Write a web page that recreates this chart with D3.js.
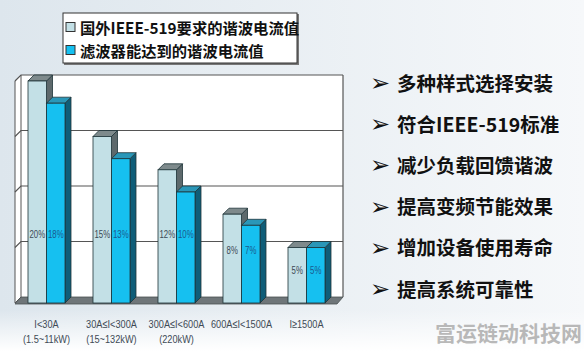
<!DOCTYPE html>
<head>
    <meta charset="utf-8">
    <script src="https://d3js.org/d3.v7.min.js"></script>
    <style>
      body { margin: 0; }
      .legendtext { font-family: "Noto Sans CJK SC"; font-size: 15.3px; font-weight: 700; fill: #111; }
      .listtext { font-family: "Noto Sans CJK SC"; font-size: 19.5px; font-weight: 700; fill: #111; }
      .axislabel { font-family: "Liberation Sans"; font-size: 11.5px; fill: #3e4a55; }
      .barlabel { font-family: "Liberation Sans"; font-size: 11.5px; }
    </style>
<body>
    <script>
        var categories = ["I<30A", "30A≤I<300A", "300A≤I<600A", "600A≤I<1500A", "I≥1500A"];
        var subLabels = ["(1.5~11kW)", "(15~132kW)", "(220kW)", "", ""];
        var seriesNames = ["国外IEEE-519要求的谐波电流值", "滤波器能达到的谐波电流值"];
        var standardValues = [20, 15, 12, 8, 5];
        var filterValues = [18, 13, 10, 7, 5];
        var yTicks = [0, 5, 10, 15, 20];
        var features = ["多种样式选择安装", "符合IEEE-519标准", "减少负载回馈谐波", "提高变频节能效果", "增加设备使用寿命", "提高系统可靠性"];
        var watermark = "富运链动科技网";

        var svg_w = 584, svg_h = 351;
        var svg = d3.select("body").append("svg")
          .attr("width", svg_w)
          .attr("height", svg_h);

        // background
        var defs = svg.append("defs");
        var bg = defs.append("linearGradient").attr("id", "bg").attr("x1", 0).attr("x2", 1).attr("y1", 0).attr("y2", 0);
        bg.append("stop").attr("offset", "0%").attr("stop-color", "#dde6ed");
        bg.append("stop").attr("offset", "100%").attr("stop-color", "#f6f8fa");
        var bgv = defs.append("linearGradient").attr("id", "bgv").attr("x1", 0).attr("x2", 0).attr("y1", 0).attr("y2", 1);
        bgv.append("stop").attr("offset", "0%").attr("stop-color", "#fff").attr("stop-opacity", 0);
        bgv.append("stop").attr("offset", "100%").attr("stop-color", "#fff").attr("stop-opacity", 1);
        svg.append("rect").attr("width", svg_w).attr("height", svg_h).attr("fill", "url(#bg)");
        svg.append("rect").attr("y", 310).attr("width", svg_w).attr("height", 41).attr("fill", "url(#bgv)");

        // chart geometry
        var dx = 6, dy = 6;
        var x = d3.scaleBand().domain(categories).range([14, 339]);
        var inner = d3.scaleBand().domain([0, 1]).range([-18.5, 18.5]);
        var y = d3.scaleLinear().domain([0, 20]).range([303, 81]);
        var left = 15, right = 337;
        var y0 = y(0);

        var chart = svg.append("g");
        // back wall
        chart.append("rect")
          .attr("x", left + dx).attr("y", y(20) - dy)
          .attr("width", right - left).attr("height", y0 - y(20))
          .attr("fill", "#fff");
        // left wall
        chart.append("path")
          .attr("d", "M" + left + "," + y(20) + "L" + (left + dx) + "," + (y(20) - dy) +
                     "L" + (left + dx) + "," + (y0 - dy) + "L" + left + "," + y0 + "Z")
          .attr("fill", "#fff").attr("stroke", "#555").attr("stroke-width", 1);
        // gridlines
        chart.selectAll(".grid").data(yTicks.filter(function(d){return d > 0;}))
          .enter().append("path")
          .attr("d", function(d) {
            return "M" + left + "," + y(d) + "L" + (left + dx) + "," + (y(d) - dy) + "L" + (right + dx) + "," + (y(d) - dy);
          })
          .attr("fill", "none").attr("stroke", "#555").attr("stroke-width", 1.2);
        chart.append("line")
          .attr("x1", right + dx).attr("x2", right + dx)
          .attr("y1", y(20) - dy).attr("y2", y0 - dy)
          .attr("stroke", "#555").attr("stroke-width", 1.2);
        // floor
        chart.append("path")
          .attr("d", "M" + left + "," + (y0 + 1) + "L" + (left + dx) + "," + (y0 - dy) +
                     "L" + (right + dx) + "," + (y0 - dy) + "L" + right + "," + (y0 + 1) + "Z")
          .attr("fill", "#6f7679").attr("stroke", "#4a5052").attr("stroke-width", 0.8);

        var colors = [
          {front: "#c3e0e6", top: "#7e8a8c", side: "#5d696c", label: "#3d4a55"},
          {front: "#16c0f0", top: "#2a97b8", side: "#0f5d78", label: "#1a5a8e"}
        ];
        var bars = [];
        categories.forEach(function(c, i) {
          bars.push({cat: c, s: 0, v: standardValues[i], ref: standardValues[i]});
          bars.push({cat: c, s: 1, v: filterValues[i], ref: standardValues[i]});
        });

        var barG = chart.selectAll(".bar").data(bars).enter().append("g").classed("bar", true);
        function bx(d) { return x(d.cat) + x.bandwidth() / 2 + inner(d.s); }
        var bw = inner.bandwidth();
        barG.append("path")
          .attr("d", function(d) {
            var x0 = bx(d) + bw, t = y(d.v);
            return "M" + x0 + "," + t + "L" + (x0 + dx) + "," + (t - dy) + "L" + (x0 + dx) + "," + (y0 - dy) + "L" + x0 + "," + y0 + "Z";
          })
          .attr("fill", function(d){return colors[d.s].side;})
          .attr("stroke", "#1e3438").attr("stroke-width", 0.8);
        barG.append("path")
          .attr("d", function(d) {
            var x0 = bx(d), t = y(d.v);
            return "M" + x0 + "," + t + "L" + (x0 + dx) + "," + (t - dy) + "L" + (x0 + bw + dx) + "," + (t - dy) + "L" + (x0 + bw) + "," + t + "Z";
          })
          .attr("fill", function(d){return colors[d.s].top;})
          .attr("stroke", "#1e3438").attr("stroke-width", 0.8);
        barG.append("rect")
          .attr("x", bx).attr("y", function(d){return y(d.v);})
          .attr("width", bw).attr("height", function(d){return y0 - y(d.v);})
          .attr("fill", function(d){return colors[d.s].front;})
          .attr("stroke", "#1e3438").attr("stroke-width", 0.8);
        // narrow labels: horizontally scaled text
        barG.append("text")
          .classed("barlabel", true)
          .attr("transform", function(d) {
            return "translate(" + (bx(d) + bw / 2) + "," + y(Math.min(d.ref * 0.6, 6.2)) + ") scale(0.68,1)";
          })
          .attr("text-anchor", "middle")
          .attr("dominant-baseline", "central")
          .attr("fill", function(d){return colors[d.s].label;})
          .text(function(d){return d.v + "%";});

        // category labels
        var xl = svg.selectAll(".xlab").data(categories).enter().append("g")
          .attr("transform", function(d){return "translate(" + (x(d) + x.bandwidth() / 2) + ",0) scale(0.8,1)";});
        xl.append("text").classed("axislabel", true)
          .attr("y", 328).attr("text-anchor", "middle")
          .text(function(d){return d;});
        xl.append("text").classed("axislabel", true)
          .attr("y", 343).attr("text-anchor", "middle")
          .text(function(d, i){return subLabels[i];});

        // legend
        var legend = svg.append("g");
        legend.append("rect").attr("x", 64).attr("y", 14).attr("width", 235).attr("height", 51).attr("fill", "#777");
        legend.append("rect").attr("x", 63).attr("y", 13).attr("width", 234).attr("height", 50)
          .attr("fill", "#fff").attr("stroke", "#333").attr("stroke-width", 1);
        var li = legend.selectAll(".li").data(seriesNames).enter().append("g")
          .attr("transform", function(d, i){return "translate(66," + (27 + i * 23) + ")";});
        li.append("rect").attr("x", 0).attr("y", -4.5).attr("width", 9).attr("height", 9)
          .attr("fill", function(d, i){return colors[i].front;})
          .attr("stroke", "#333").attr("stroke-width", 1);
        li.append("text").classed("legendtext", true)
          .attr("x", 14).attr("y", 0).attr("dominant-baseline", "central")
          .text(function(d){return d;});

        // feature list
        var fl = svg.selectAll(".feat").data(features).enter().append("g")
          .attr("transform", function(d, i){return "translate(0," + (82 + i * 41.2) + ")";});
        fl.append("text")
          .attr("x", 370).attr("y", 1).attr("dominant-baseline", "central")
          .attr("font-family", "DejaVu Sans").attr("font-size", "24px").attr("fill", "#111")
          .text("➢");
        fl.append("text").classed("listtext", true)
          .attr("x", 397).attr("y", 0).attr("dominant-baseline", "central")
          .text(function(d){return d;});

        svg.append("text")
          .attr("x", 582).attr("y", 332)
          .attr("text-anchor", "end").attr("dominant-baseline", "central")
          .attr("font-family", "Noto Sans CJK SC").attr("font-weight", 700)
          .attr("font-size", "21px").attr("fill", "#b8b8b8")
          .text(watermark);
    </script>
</body>
